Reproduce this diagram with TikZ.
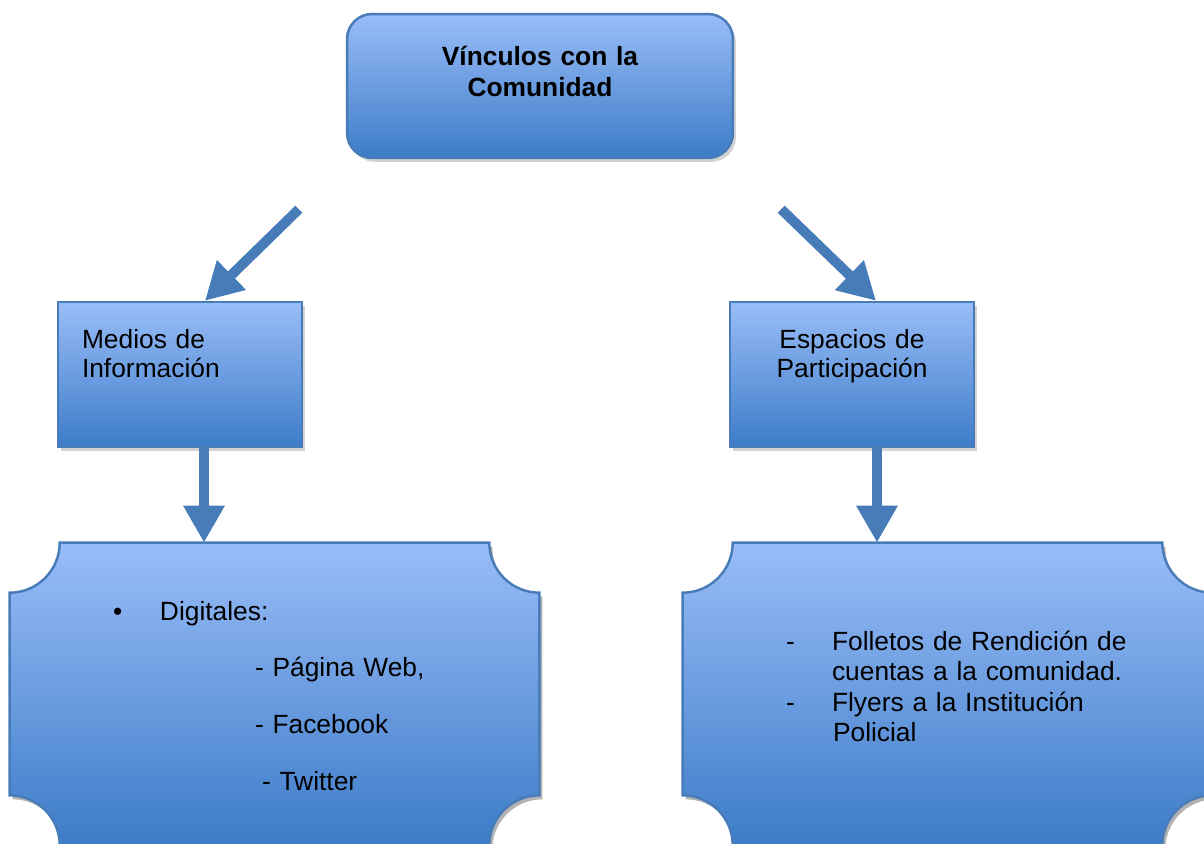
\documentclass[tikz,border=0pt]{standalone}
\usepackage{fontspec}
\setmainfont{Liberation Sans}
\usetikzlibrary{arrows.meta,calc,shadows}
\definecolor{boxtop}{RGB}{153,189,248}
\definecolor{boxbot}{RGB}{61,124,200}
\definecolor{boxline}{RGB}{72,124,185}
\pgfdeclarelayer{background}
\pgfsetlayers{background,main}
\tikzset{
    %Define standard arrow tip
    >={Triangle[width=0.78cm,length=0.74cm]},
    %Define style for boxes
    bshade/.style={
           top color=boxtop,
           bottom color=boxbot,
           draw=boxline,
           line width=1.4pt},
    bshadow/.style={
           drop shadow={shadow xshift=0.06cm, shadow yshift=-0.08cm, opacity=0.35}},
    tbox/.style={
           rectangle,
           rounded corners=0.5cm,
           bshade, bshadow,
           inner sep=0pt,
           text width=7.72cm,
           text height=1.02cm,
           text depth=1.86cm,
           align=center,
           font=\fontsize{15}{18.2}\selectfont\bfseries},
    mbox/.style={
           rectangle,
           bshade, bshadow,
           inner xsep=0.48cm,
           inner ysep=0pt,
           text width=3.92cm,
           text height=0.92cm,
           text depth=1.98cm,
           font=\fontsize{15}{17}\selectfont},
    pbox/.style={
           rectangle,
           inner sep=0pt,
           text width=10.58cm,
           align=left},
    % Define arrow style
    fatarr/.style={
           ->,
           draw=boxline,
           line width=0.2cm}
}
% outline with cut-in corners
\newcommand{\plaque}[1]{(#1.north west) ++(50,0)
    -- ($(#1.north east)+(-50,0)$) arc[start angle=180,end angle=270,radius=1cm]
    -- ($(#1.south east)+(0,50)$) arc[start angle=90,end angle=180,radius=1cm]
    -- ($(#1.south west)+(50,0)$) arc[start angle=0,end angle=90,radius=1cm]
    -- ($(#1.north west)+(0,-50)$) arc[start angle=270,end angle=360,radius=1cm]
    -- cycle}

\begin{document}
\begin{tikzpicture}[x=0.02cm, y=0.02cm]
    \useasboundingbox (0,0) rectangle (1204,-843);

    % TOP
    \node[tbox] at (540,-86) (vinculos) {Vínculos con la\\Comunidad};

    % SECOND ROW
    \node[mbox, align=left] at (180,-374.5) (medios) {Medios de\\Información};
    \node[mbox, align=center] at (852,-374.5) (espacios) {Espacios de\\Participación};

    % THIRD ROW
    \node[pbox, font=\fontsize{15}{32.4}\selectfont, text height=1.54cm, text depth=4.5cm]
        at (274.5,-694) (digitales) {%
        \hspace*{2.06cm}\makebox[0.94cm][l]{\textbullet}Digitales:\\
        \hspace*{4.9cm}- Página Web,\\
        \hspace*{4.9cm}- Facebook\\
        \hspace*{5.04cm}- Twitter};
    \node[pbox, font=\fontsize{15}{17.4}\selectfont, text height=2.14cm, text depth=3.9cm]
        at (947.5,-694) (folletos) {%
        \hspace*{2.06cm}\makebox[0.92cm][l]{-}Folletos de Rendición de\\
        \hspace*{2.98cm}cuentas a la comunidad.\\
        \hspace*{2.06cm}\makebox[0.92cm][l]{-}Flyers a la Institución\\
        \hspace*{3.0cm}Policial};

    \begin{pgfonlayer}{background}
        \foreach \n in {digitales,folletos}{
            \fill[black, opacity=0.3, transform canvas={xshift=0.06cm,yshift=-0.08cm}] \plaque{\n};
            \shade[bshade] \plaque{\n};
        }
    \end{pgfonlayer}

    % ARROWS
    \draw[fatarr] ([shift={(-47,-50)}]vinculos.south west) -- ([shift={(25,0)}]medios.north);
    \draw[fatarr] ([shift={(47,-50)}]vinculos.south east) -- ([shift={(24,0)}]espacios.north);
    \draw[fatarr] ([shift={(24,0)}]medios.south) -- ([shift={(24,0)}]medios.south |- digitales.north);
    \draw[fatarr] ([shift={(25,0)}]espacios.south) -- ([shift={(25,0)}]espacios.south |- folletos.north);
\end{tikzpicture}
\end{document}
